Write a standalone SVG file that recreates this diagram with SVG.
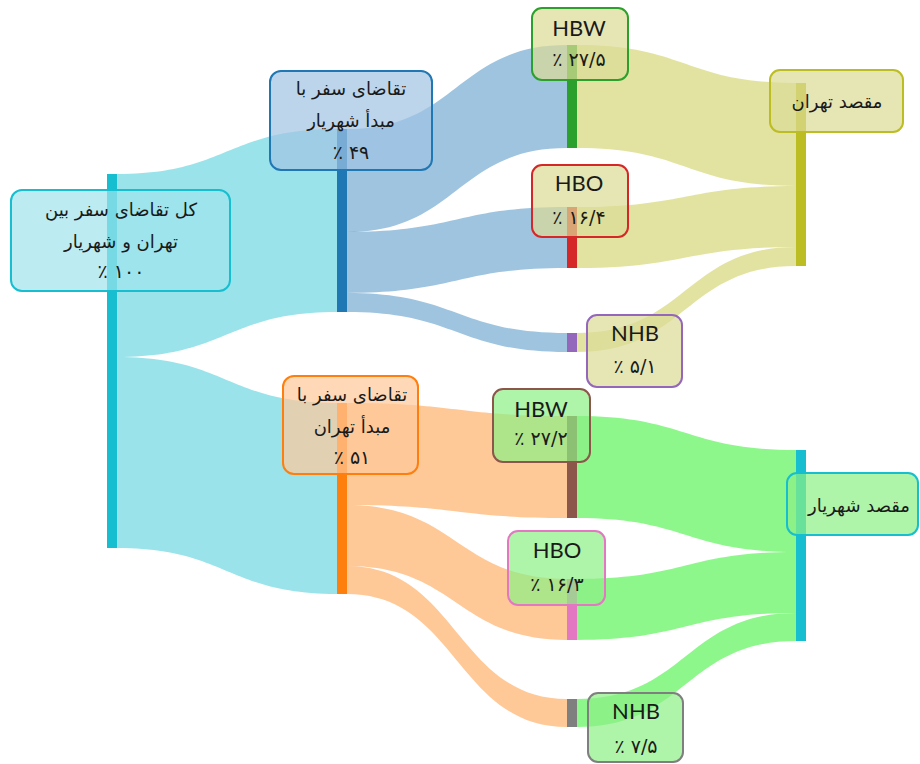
<svg xmlns="http://www.w3.org/2000/svg" width="920" height="764" viewBox="0 0 920 764">
<style>
.lk{stroke:none}
.cy{fill:#17becf;fill-opacity:0.43}
.bl{fill:#1f77b4;fill-opacity:0.43}
.or{fill:#ff7f0e;fill-opacity:0.43}
.ol{fill:#bcbd22;fill-opacity:0.43}
.gr{fill:#1ef01a;fill-opacity:0.5}
.box{stroke-width:2;fill-opacity:0.7}
.fa{font-family:"DejaVu Sans",sans-serif;font-size:18px;fill:#1a1a1a;text-anchor:middle}
.fl{font-family:Lato,"DejaVu Sans",sans-serif;font-size:22px;fill:#1a1a1a;text-anchor:middle}
.fn{font-family:"DejaVu Sans",sans-serif;font-size:19px;fill:#1a1a1a;text-anchor:middle}
</style>
<rect width="920" height="764" fill="#ffffff"/>
<g id="links">
<path class="lk cy" d="M117,174 C227,174 227,129 337,129 L337,312 C227,312 227,357 117,357 Z"/>
<path class="lk cy" d="M117,357 C227,357 227,403 337,403 L337,594 C227,594 227,548 117,548 Z"/>
<path class="lk bl" d="M347,129 C457,129 457,45 567,45 L567,148 C457,148 457,232 347,232 Z"/>
<path class="lk bl" d="M347,232 C457,232 457,207 567,207 L567,268 C457,268 457,293 347,293 Z"/>
<path class="lk bl" d="M347,293 C457,293 457,333 567,333 L567,352 C457,352 457,312 347,312 Z"/>
<path class="lk or" d="M347,403 C457,403 457,416 567,416 L567,518 C457,518 457,505 347,505 Z"/>
<path class="lk or" d="M347,505 C457,505 457,579 567,579 L567,640 C457,640 457,566 347,566 Z"/>
<path class="lk or" d="M347,566 C457,566 457,699 567,699 L567,727 C457,727 457,594 347,594 Z"/>
<path class="lk ol" d="M577,45 C686,45 686,83 796,83 L796,186 C686,186 686,148 577,148 Z"/>
<path class="lk ol" d="M577,207 C686,207 686,186 796,186 L796,247 C686,247 686,268 577,268 Z"/>
<path class="lk ol" d="M577,333 C686,333 686,247 796,247 L796,266 C686,266 686,352 577,352 Z"/>
<path class="lk gr" d="M577,416 C686,416 686,450 796,450 L796,552 C686,552 686,518 577,518 Z"/>
<path class="lk gr" d="M577,579 C686,579 686,552 796,552 L796,613 C686,613 686,640 577,640 Z"/>
<path class="lk gr" d="M577,699 C686,699 686,613 796,613 L796,641 C686,641 686,727 577,727 Z"/>
</g>
<g id="node-total">
<rect x="107" y="174" width="10" height="374" fill="#17becf"/>
<rect class="box" x="11" y="190" width="219" height="101" rx="11" fill="#a0e4ec" stroke="#17becf"/>
<text class="fa" x="121" y="216">کل تقاضای سفر بین</text>
<text class="fa" x="121" y="248">تهران و شهریار</text>
<text class="fn" x="121" y="278">٪ ۱۰۰</text>
</g>
<g id="node-origin-shahriar">
<rect x="337" y="129" width="10" height="183" fill="#1f77b4"/>
<rect class="box" x="270" y="71" width="162" height="99" rx="11" fill="#9fc3e3" stroke="#1f77b4"/>
<text class="fa" x="351" y="95">تقاضای سفر با</text>
<text class="fa" x="351" y="127">مبدأ شهریار</text>
<text class="fn" x="351" y="159">٪ ۴۹</text>
</g>
<g id="node-origin-tehran">
<rect x="337" y="403" width="10" height="191" fill="#ff7f0e"/>
<rect class="box" x="283" y="376" width="135" height="98" rx="11" fill="#ffc89a" stroke="#ff7f0e"/>
<text class="fa" x="352" y="401">تقاضای سفر با</text>
<text class="fa" x="352" y="433">مبدأ تهران</text>
<text class="fn" x="352" y="464">٪ ۵۱</text>
</g>
<g id="node-hbw-s">
<rect x="567" y="45" width="10" height="103" fill="#2ca02c"/>
<rect class="box" x="532" y="8" width="96" height="72" rx="10" fill="#dcdc96" stroke="#2ca02c"/>
<text class="fl" x="579" y="36">HBW</text>
<text class="fn" x="579" y="66">٪ ۲۷/۵</text>
</g>
<g id="node-hbo-s">
<rect x="567" y="207" width="10" height="61" fill="#d62728"/>
<rect class="box" x="532" y="165" width="96" height="72" rx="10" fill="#dcdc96" stroke="#d62728"/>
<text class="fl" x="579" y="191">HBO</text>
<text class="fn" x="579" y="224">٪ ۱۶/۴</text>
</g>
<g id="node-nhb-s">
<rect x="567" y="333" width="10" height="19" fill="#9467bd"/>
<rect class="box" x="587" y="315" width="95" height="72" rx="10" fill="#dcdc96" stroke="#9467bd"/>
<text class="fl" x="635" y="341">NHB</text>
<text class="fn" x="635" y="373">٪ ۵/۱</text>
</g>
<g id="node-hbw-t">
<rect x="567" y="416" width="10" height="102" fill="#8c564b"/>
<rect class="box" x="493" y="389" width="97" height="73" rx="10" fill="#8cf084" stroke="#8c564b"/>
<text class="fl" x="541" y="417">HBW</text>
<text class="fn" x="541" y="445">٪ ۲۷/۲</text>
</g>
<g id="node-hbo-t">
<rect x="567" y="579" width="10" height="61" fill="#e377c2"/>
<rect class="box" x="508" y="531" width="97" height="74" rx="10" fill="#8cf084" stroke="#e377c2"/>
<text class="fl" x="557" y="558">HBO</text>
<text class="fn" x="557" y="591">٪ ۱۶/۳</text>
</g>
<g id="node-nhb-t">
<rect x="567" y="699" width="10" height="28" fill="#7f7f7f"/>
<rect class="box" x="588" y="693" width="95" height="69" rx="10" fill="#8cf084" stroke="#7f7f7f"/>
<text class="fl" x="636" y="719">NHB</text>
<text class="fn" x="636" y="753">٪ ۷/۵</text>
</g>
<g id="node-dest-tehran">
<rect x="796" y="83" width="10" height="183" fill="#bcbd22"/>
<rect class="box" x="770" y="70" width="133" height="62" rx="10" fill="#dcdc96" stroke="#bcbd22"/>
<text class="fa" x="837" y="108">مقصد تهران</text>
</g>
<g id="node-dest-shahriar">
<rect x="796" y="450" width="10" height="191" fill="#17becf"/>
<rect class="box" x="787" y="473" width="131" height="62" rx="10" fill="#8cf084" stroke="#17becf"/>
<text class="fa" x="859" y="512">مقصد شهریار</text>
</g>
</svg>
